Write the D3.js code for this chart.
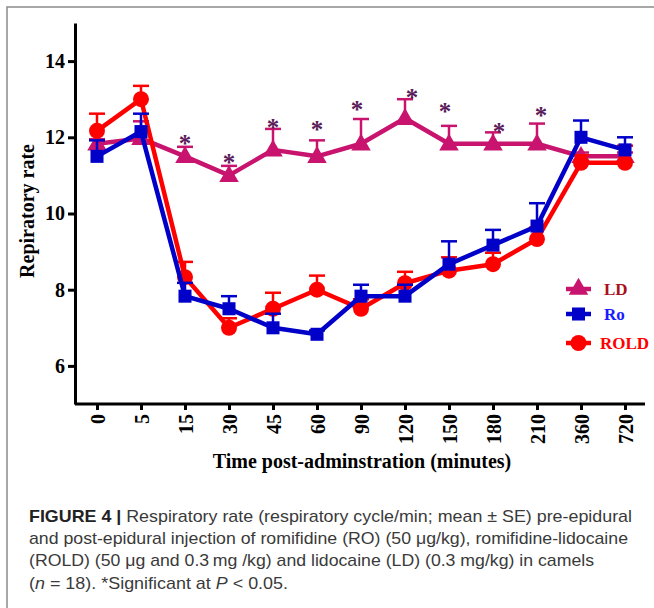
<!DOCTYPE html>
<html>
<head>
<meta charset="utf-8">
<script src="https://cdn.jsdelivr.net/npm/d3@7"></script>
<style>
  body { margin: 0; background: #fff; }
  svg { display: block; }
</style>
</head>
<body>
<div id="chart"></div>
<script>
// time points (minutes) - categorical x axis
const times = ["0", "5", "15", "30", "45", "60", "90", "120", "150", "180", "210", "360", "720"];

// LD group
const ldMean = [11.83, 11.97, 11.5, 11.0, 11.67, 11.5, 11.83, 12.5, 11.83, 11.83, 11.83, 11.5, 11.5];
const ldErr  = [0.12, 0.45, 0.25, 0.25, 0.55, 0.42, 0.65, 0.5, 0.47, 0.3, 0.53, 0.1, 0.1];
// level where the significance asterisk sits (null = none)
const ldSig  = [null, null, 11.95, 11.45, 12.37, 12.31, 12.84, 13.15, 12.79, 12.26, 12.68, null, null];
const ldSigDx = [0, 0, 0, 0, 0, 0, -4, 7, -4, 6, 4, 0, 0];

// Ro group
const roMean = [11.5, 12.15, 7.83, 7.5, 7.0, 6.83, 7.83, 7.83, 8.67, 9.17, 9.67, 12.0, 11.67];
const roErr  = [0.42, 0.47, 0.35, 0.33, 0.37, 0.1, 0.3, 0.3, 0.6, 0.4, 0.6, 0.44, 0.33];

// ROLD group
const roldMean = [12.17, 13.0, 8.33, 7.0, 7.5, 8.0, 7.5, 8.17, 8.5, 8.67, 9.33, 11.33, 11.33];
const roldErr  = [0.45, 0.35, 0.4, 0.25, 0.42, 0.37, 0.25, 0.3, 0.35, 0.3, 0.3, 0.2, 0.45];

const yTicks = [6, 8, 10, 12, 14];

const W = 654, H = 608;
const serif = "'Liberation Serif', 'Times New Roman', serif";
const sans = "'Liberation Sans', Arial, sans-serif";

const svg = d3.select("#chart").append("svg")
  .attr("width", W)
  .attr("height", H);

// grey frame of the figure
svg.append("path")
  .attr("d", `M7,${H}V7H${W}`)
  .attr("fill", "none")
  .attr("stroke", "#8a8a8a")
  .attr("stroke-width", 1.5);

// scales
const x = d3.scalePoint().domain(times).range([97, 625]);
const y = d3.scaleLinear().domain([5, 15]).range([404, 23]);

// y axis
const yAxis = svg.append("g")
  .attr("transform", "translate(75,0)")
  .call(d3.axisLeft(y).tickValues(yTicks).tickSize(7).tickSizeOuter(0).tickPadding(3));
yAxis.select(".domain").attr("stroke-width", 3).attr("stroke", "#000");
yAxis.selectAll(".tick line").attr("stroke-width", 3);
yAxis.selectAll(".tick text")
  .style("font-family", serif)
  .style("font-weight", "bold")
  .style("font-size", "20px")
  .attr("fill", "#000");

// x axis
const xAxis = svg.append("g")
  .attr("transform", "translate(0,404)")
  .call(d3.axisBottom(x).tickSize(6).tickSizeOuter(0));
xAxis.select(".domain")
  .attr("d", "M75,0H645")
  .attr("stroke-width", 3)
  .attr("stroke", "#000");
xAxis.selectAll(".tick line").attr("stroke-width", 3);
xAxis.selectAll(".tick text")
  .style("font-family", serif)
  .style("font-weight", "bold")
  .style("font-size", "20px")
  .attr("fill", "#000")
  .attr("transform", "rotate(-90)")
  .attr("text-anchor", "end")
  .attr("x", -10)
  .attr("y", 0)
  .attr("dy", "0.35em");

// axis titles
svg.append("text")
  .attr("transform", "translate(34,211) rotate(-90)")
  .attr("text-anchor", "middle")
  .style("font-family", serif)
  .style("font-weight", "bold")
  .style("font-size", "20px")
  .text("Repiratory rate");

svg.append("text")
  .attr("x", 362)
  .attr("y", 468)
  .attr("text-anchor", "middle")
  .style("font-family", serif)
  .style("font-weight", "bold")
  .style("font-size", "20px")
  .text("Time post-adminstration (minutes)");

// series
const series = [
  { name: "LD", mean: ldMean, err: ldErr, color: "#c8146e", text: "#a8101e", shape: d3.symbolTriangle, size: 165 },
  { name: "ROLD", mean: roldMean, err: roldErr, color: "#ff0000", text: "#ff0000", shape: d3.symbolCircle, size: 200 },
  { name: "Ro", mean: roMean, err: roErr, color: "#0000c8", text: "#1a1aff", shape: d3.symbolSquare, size: 170 }
];

const line = d3.line()
  .x((d, i) => x(times[i]))
  .y(d => y(d));

series.forEach(s => {
  const g = svg.append("g");
  // error bars (upper only)
  s.mean.forEach((m, i) => {
    const cx = x(times[i]);
    g.append("line")
      .attr("x1", cx).attr("x2", cx)
      .attr("y1", y(m)).attr("y2", y(m + s.err[i]))
      .attr("stroke", s.color).attr("stroke-width", 2.5);
    g.append("line")
      .attr("x1", cx - 8).attr("x2", cx + 8)
      .attr("y1", y(m + s.err[i])).attr("y2", y(m + s.err[i]))
      .attr("stroke", s.color).attr("stroke-width", 2.5);
  });
  g.append("path")
    .datum(s.mean)
    .attr("d", line)
    .attr("fill", "none")
    .attr("stroke", s.color)
    .attr("stroke-width", 4.5)
    .attr("stroke-linejoin", "round");
  g.selectAll("path.marker")
    .data(s.mean)
    .enter()
    .append("path")
    .attr("class", "marker")
    .attr("d", d3.symbol().type(s.shape).size(s.size))
    .attr("transform", (d, i) => `translate(${x(times[i])},${y(d) + (s.shape === d3.symbolTriangle ? 1 : 0)})`)
    .attr("fill", s.color);
});

// significance asterisks for LD
svg.append("g")
  .selectAll("text")
  .data(ldSig.map((v, i) => ({ v: v, i: i })).filter(d => d.v !== null))
  .enter()
  .append("text")
  .attr("x", d => x(times[d.i]) + ldSigDx[d.i])
  .attr("y", d => y(d.v) + 13)
  .attr("text-anchor", "middle")
  .style("font-family", serif)
  .style("font-weight", "bold")
  .style("font-size", "25px")
  .attr("fill", "#5a1a5a")
  .text("*");

// legend
const legendOrder = ["LD", "Ro", "ROLD"];
const legendY = [289, 314, 343];
const legend = svg.append("g");
legendOrder.forEach((name, k) => {
  const s = series.find(d => d.name === name);
  const ly = legendY[k];
  legend.append("line")
    .attr("x1", 566).attr("x2", 591)
    .attr("y1", ly).attr("y2", ly)
    .attr("stroke", s.color).attr("stroke-width", 4.5);
  legend.append("path")
    .attr("d", d3.symbol().type(s.shape).size(s.size))
    .attr("transform", `translate(578.5,${ly})`)
    .attr("fill", s.color);
  legend.append("text")
    .attr("x", name === "ROLD" ? 600 : 604)
    .attr("y", ly)
    .attr("dy", "0.35em")
    .style("font-family", serif)
    .style("font-weight", "bold")
    .style("font-size", "17px")
    .attr("fill", s.text)
    .text(name);
});

// caption
const cap = svg.append("g")
  .style("font-family", sans)
  .style("font-size", "17px")
  .attr("fill", "#3a3a3a");

const l1 = cap.append("text").attr("x", 29).attr("y", 522).attr("textLength", 603).attr("lengthAdjust", "spacingAndGlyphs");
l1.append("tspan").style("font-weight", "bold").attr("fill", "#222").text("FIGURE 4 | ");
l1.append("tspan").text("Respiratory rate (respiratory cycle/min; mean \u00b1 SE) pre-epidural");

cap.append("text").attr("x", 29).attr("y", 544).attr("textLength", 599).attr("lengthAdjust", "spacingAndGlyphs")
  .text("and post-epidural injection of romifidine (RO) (50 \u03bcg/kg), romifidine-lidocaine");

cap.append("text").attr("x", 29).attr("y", 566).attr("textLength", 565).attr("lengthAdjust", "spacingAndGlyphs")
  .text("(ROLD) (50 \u03bcg and 0.3\u2009mg /kg) and lidocaine (LD) (0.3 mg/kg) in camels");

const l4 = cap.append("text").attr("x", 29).attr("y", 589).attr("textLength", 259).attr("lengthAdjust", "spacingAndGlyphs");
l4.append("tspan").text("(");
l4.append("tspan").style("font-style", "italic").text("n");
l4.append("tspan").text(" = 18). *Significant at ");
l4.append("tspan").style("font-style", "italic").text("P");
l4.append("tspan").text(" < 0.05.");
</script>
</body>
</html>
